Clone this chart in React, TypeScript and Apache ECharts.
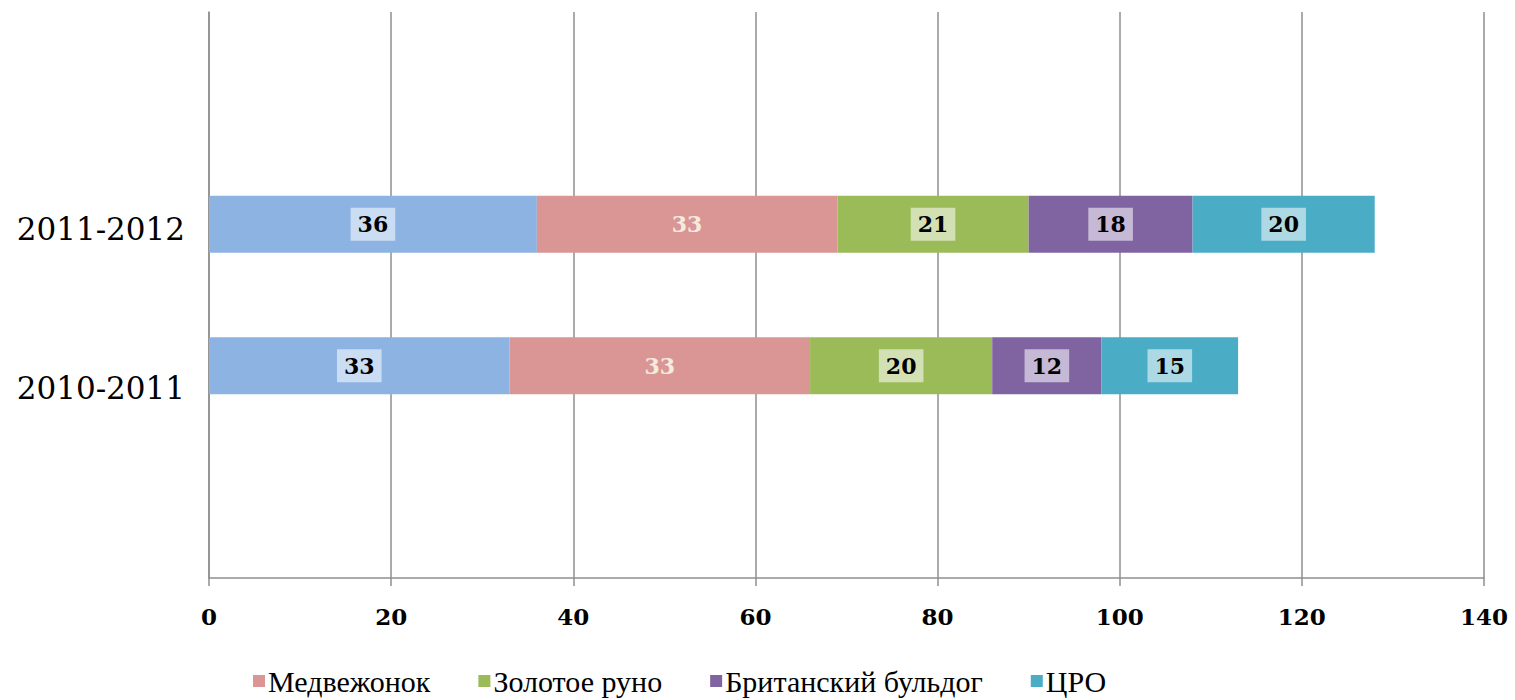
import React, { useEffect, useRef } from "react";
import * as echarts from "echarts";

const categories = ["", "2010-2011", "2011-2012", ""];
const seriesNames = ["Ряд 1", "Медвежонок", "Золотое руно", "Британский бульдог", "ЦРО"];
const legendNames = ["Медвежонок", "Золотое руно", "Британский бульдог", "ЦРО"];
const series1 = [null, 33, 36, null];
const medvezhonok = [null, 33, 33, null];
const zolotoeRuno = [null, 20, 21, null];
const bulldog = [null, 12, 18, null];
const tsro = [null, 15, 20, null];
const xTicks = [0, 140, 20];

const colors = ["#8DB3E2", "#D99694", "#9BBB59", "#8064A2", "#4BACC6"];

export default function App() {
  const ref = useRef<HTMLDivElement>(null);
  useEffect(() => {
    if (!ref.current) return;
    const chart = echarts.init(ref.current, null, { renderer: "svg" });
    const values = [series1, medvezhonok, zolotoeRuno, bulldog, tsro];
    const boxLabel = {
      show: true,
      position: "inside",
      fontFamily: "DejaVu Serif",
      fontWeight: "bold",
      fontSize: 22,
      color: "#000",
      backgroundColor: "rgba(255,255,255,0.55)",
      padding: [7, 7, 4, 7],
    };
    chart.setOption({
      animation: false,
      color: colors,
      grid: { left: 209, right: 31, top: 12, bottom: 122, containLabel: false },
      legend: {
        data: legendNames,
        left: 248,
        top: 661,
        itemWidth: 12,
        itemHeight: 12,
        itemGap: 48,
        icon: "rect",
        textStyle: { fontFamily: "Liberation Serif", fontSize: 30, color: "#000", padding: [0, 0, 0, -2] },
      },
      xAxis: {
        type: "value",
        min: xTicks[0],
        max: xTicks[1],
        interval: xTicks[2],
        axisLine: { show: true, lineStyle: { color: "#8f8f8f", width: 1.5 } },
        axisTick: { show: true, length: 8, lineStyle: { color: "#8f8f8f", width: 1.5 } },
        splitLine: { show: true, lineStyle: { color: "#8f8f8f", width: 1.5 } },
        axisLabel: {
          margin: 27,
          fontFamily: "DejaVu Serif",
          fontWeight: "bold",
          fontSize: 23,
          color: "#000",
        },
      },
      yAxis: {
        type: "category",
        data: categories,
        axisLine: { show: true, lineStyle: { color: "#8f8f8f", width: 1.5 } },
        axisTick: { show: false },
        splitLine: { show: false },
        axisLabel: {
          margin: 24,
          fontFamily: "DejaVu Serif",
          fontSize: 31,
          color: "#000",
          formatter: (v: string) =>
            v === categories[1] ? "{low|" + v + "}" : v === categories[2] ? "{high|" + v + "}" : v,
          rich: {
            low: { fontFamily: "DejaVu Serif", fontSize: 31, color: "#000", padding: [44, 0, 0, 0] },
            high: { fontFamily: "DejaVu Serif", fontSize: 31, color: "#000", padding: [10, 0, 0, 0] },
          },
        },
      },
      series: values.map((v, i) => ({
        name: seriesNames[i],
        type: "bar",
        stack: "total",
        barWidth: 57,
        data: v,
        itemStyle: { color: colors[i] },
        label:
          i === 1
            ? {
                show: true,
                position: "inside",
                fontFamily: "DejaVu Serif",
                fontWeight: "bold",
                fontSize: 22,
                color: "#F4EBDF",
                padding: [8, 0, 0, 0],
              }
            : boxLabel,
      })),
    });
    return () => chart.dispose();
  }, []);
  return (
    <div
      ref={ref}
      style={{ position: "fixed", left: 0, top: 0, width: 1515, height: 700, background: "#fff" }}
    />
  );
}
